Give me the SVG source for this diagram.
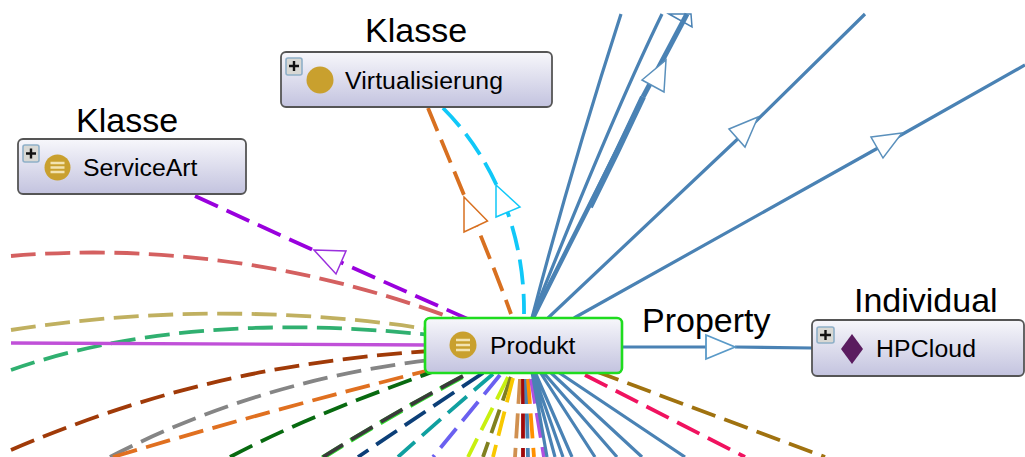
<svg xmlns="http://www.w3.org/2000/svg" width="1025" height="457" viewBox="0 0 1025 457">
<style>
.l{fill:none;stroke-width:3.8;stroke-dasharray:25 9.500}
.s{fill:none;stroke:#4a82b4;stroke-width:3.200}
.a{fill:#fff;stroke-width:1.5}
.n{stroke:#555;stroke-width:1.8;fill:url(#g)}
.t{font-family:"Liberation Sans",Arial,sans-serif;fill:#000}
.h{font-size:34px}
.b{font-size:24.8px}
.i{fill:#c9a02e}
.w{stroke:#f3e3b0;stroke-width:2.600}
.p{fill:#d8d8d4;stroke:#8fb0c8;stroke-width:1.600}
.c{stroke:#111;stroke-width:2.400}
</style>
<defs><linearGradient id="g" x1="0" y1="0" x2="0" y2="1"><stop offset="0" stop-color="#f7f7fb"/><stop offset="1" stop-color="#c3c3df"/></linearGradient></defs>
<rect width="1025" height="457" fill="#fff"/>
<g id="connectors">
<path class="l" stroke="#d46060" d="M11 256C140 245 300 258 470 325"/>
<path class="l" stroke="#c0b060" d="M11 330C150 308 300 308 440 331"/>
<path class="l" stroke="#30b070" d="M11 370C120 332 260 316 440 336"/>
<path d="M11 343L430 345" stroke="#c050d8" stroke-width="3.400" fill="none"/>
<path class="l" stroke="#a03a08" d="M11 450C170 382 300 360 430 351"/>
<path class="l" stroke="#858585" d="M110 457C220 400 330 372 430 360"/>
<path class="l" stroke="#e07020" d="M113 457C220 425 330 395 430 370"/>
<path class="l" stroke="#086a10" d="M230 457C300 420 370 395 440 369"/>
<path class="l" stroke="#32e030" style="stroke-width:4.800" transform="translate(-.6 .9)" d="M463 376Q390 415 323 457"/>
<path class="l" stroke="#3a3a3a" d="M463 376Q390 415 323 457"/>
<path class="l" stroke="#0c3f78" d="M483 373Q420 415 358 457"/>
<path class="l" stroke="#10a0a0" d="M493 374Q445 415 398 457"/>
<path class="l" stroke="#6a60f0" d="M500 375L433 457"/>
<path class="l" stroke="#c8f010" d="M508 377L468 457"/>
<path class="l" stroke="#808020" d="M511 377L483 457"/>
<path class="l" stroke="#f8c800" d="M513 378L493 457"/>
<path class="l" stroke="#d09050" d="M520 379L515 457"/>
<path class="l" stroke="#a00808" d="M523 379V457"/>
<path class="l" stroke="#4a82b4" d="M526 379L528 457"/>
<path class="l" stroke="#ff9000" d="M528 379L534 457"/>
<path class="l" stroke="#b050e0" d="M531 379L544 457"/>
<path class="s" d="M532 372L547 457M532 372L555 457M533 372L563 457M535 372L572 457M540 372L595 457M543 372L617 457M550 372L642 457M558 372L685 457"/>
<path class="l" stroke="#a0720f" d="M595 371L825 457"/>
<path class="l" stroke="#f0125f" d="M585 375L745 457"/>
<path class="s" d="M622 347H706M735 347L812 348"/>
<polygon class="a" stroke="#4a82b4" points="669,14 692,27 691,14"/>
<path class="s" d="M532 318C560 210 590 110 621 14"/>
<path class="s" d="M532 318C575 210 620 100 662 14"/>
<path class="s" style="stroke-width:4.500" d="M533 318C560 262 610 167 643 97"/>
<path class="s" style="stroke-width:6" d="M590 207C610 167 630 125 643 97"/>
<path class="s" style="stroke-width:5" d="M643 97L687 14"/>
<path class="s" d="M548 318L744 133L865 14"/>
<path class="s" d="M574 318L878 148L1025 65"/>
<path class="l" stroke="#9900dd" d="M195 196C290 240 380 280 470 320"/>
<path class="l" stroke="#d87020" d="M428 108C445 150 490 255 511 314"/>
<path class="l" stroke="#10c8f8" d="M443 108C495 160 525 235 524 314"/>
<polygon class="a" stroke="#9a30dd" points="314,250 346,251 336,274"/>
<polygon class="a" stroke="#d87020" points="464,197 487.500,221 464,232"/>
<polygon class="a" stroke="#10c8f8" points="496,185 520,207 496,217"/>
<polygon class="a" stroke="#5a90bc" points="642,80 666,60 664,92"/>
<polygon class="a" stroke="#5a90bc" points="729,129 758,117 745,147"/>
<polygon class="a" stroke="#5a90bc" points="871,137 902,133 883,158"/>
<polygon class="a" stroke="#5a9ac8" style="stroke-width:1.800" points="706,335 735,347 706,359"/>
</g>
<g id="node-serviceart">
<text class="t h" x="76" y="132">Klasse</text>
<rect class="n" x="18" y="139" width="228" height="55" rx="5"/>
<rect class="p" x="23" y="145" width="16" height="17" rx="2"/>
<path class="c" d="M26 153.500H36M31 148.500V158.500"/>
<circle class="i" cx="57.500" cy="167.500" r="13"/>
<path class="w" d="M50.500 163H64.500M50.500 167.500H64.500M50.500 172H64.500"/>
<text class="t b" x="83" y="176">ServiceArt</text>
</g>
<g id="node-virtualisierung">
<text class="t h" x="365" y="42">Klasse</text>
<rect class="n" x="281" y="52" width="271" height="55" rx="5"/>
<rect class="p" x="286" y="58" width="16" height="17" rx="2"/>
<path class="c" d="M289 66H299M294 61V71"/>
<circle class="i" cx="320" cy="80" r="13.500"/>
<text class="t b" x="345" y="89" textLength="158">Virtualisierung</text>
</g>
<g id="node-produkt">
<rect x="425" y="318" width="197" height="55" rx="5" fill="url(#g)" stroke="#1fdc1f" stroke-width="2.600"/>
<circle class="i" cx="463" cy="345" r="13.500"/>
<path class="w" d="M456 340H470M456 345H470M456 350H470"/>
<text class="t b" x="490" y="354">Produkt</text>
</g>
<g id="node-hpcloud">
<text class="t h" x="854" y="312">Individual</text>
<rect class="n" x="812" y="320" width="212" height="56" rx="5"/>
<rect class="p" x="817" y="327" width="17" height="16" rx="2"/>
<path class="c" d="M820 335H831M825.500 330V340"/>
<polygon fill="#5a1c5f" points="852,334 863,349 852,364 841,349"/>
<text class="t b" x="876" y="357" textLength="100">HPCloud</text>
</g>
<g id="edge-label"><text class="t h" x="642" y="332">Property</text></g>
</svg>
